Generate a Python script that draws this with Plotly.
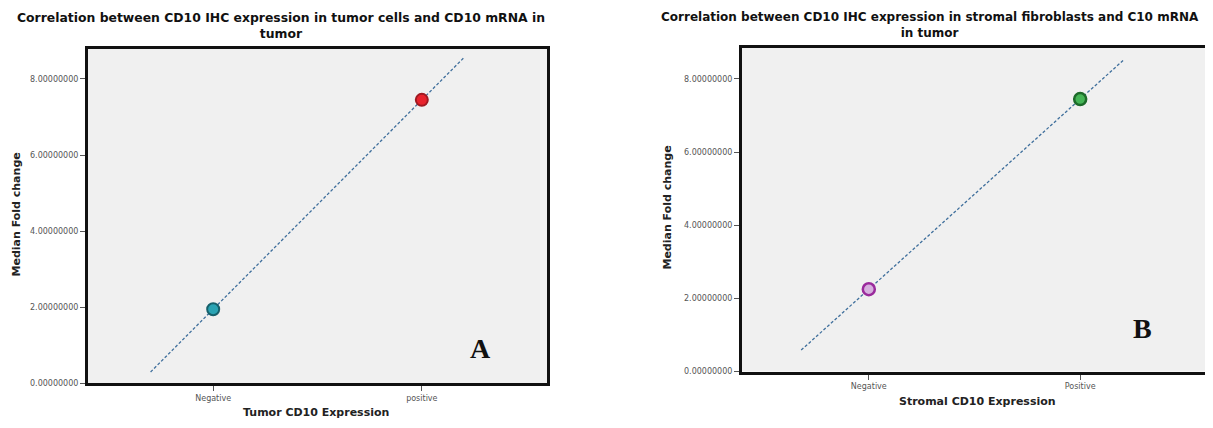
import plotly.graph_objects as go

# ---- data ----
cats_a = ["Negative", "positive"]
vals_a = [1.95, 7.45]
cats_b = ["Negative", "Positive"]
vals_b = [2.25, 7.45]
yticks = [0, 2, 4, 6, 8]
title_a = ["Correlation between CD10 IHC expression in tumor cells and CD10 mRNA in", "tumor"]
title_b = ["Correlation between CD10 IHC expression in stromal fibroblasts and C10 mRNA", "in tumor"]
xtitle_a = "Tumor CD10 Expression"
xtitle_b = "Stromal CD10 Expression"
ytitle = "Median Fold change"

# fit-line extent (in category index units)
ext_a = (-0.30, 1.20)
ext_b = (-0.32, 1.21)


def fit_line(vals, ext):
    slope = vals[1] - vals[0]
    xs = [ext[0], ext[1]]
    ys = [vals[0] + slope * x for x in xs]
    return xs, ys


OFF = 8  # page body margin
W, H = 1213 - OFF, 428 - 2 * OFF
FONT = "DejaVu Sans, sans-serif"
SERIF = "Liberation Serif, Times New Roman, serif"


def px(x):
    return (x - OFF) / W


def py(y):
    return 1 - (y - OFF) / H


fig = go.Figure()

LINE = dict(color="#3f6f9c", width=1.3, dash="3px,2px")

# panel A
lx, ly = fit_line(vals_a, ext_a)
fig.add_trace(go.Scatter(x=lx, y=ly, mode="lines", xaxis="x", yaxis="y",
                         line=LINE, showlegend=False, hoverinfo="skip"))
fig.add_trace(go.Scatter(x=[0], y=[vals_a[0]], mode="markers", xaxis="x", yaxis="y",
                         marker=dict(size=12, color="#2aa3b3", line=dict(color="#17606b", width=2)),
                         showlegend=False))
fig.add_trace(go.Scatter(x=[1], y=[vals_a[1]], mode="markers", xaxis="x", yaxis="y",
                         marker=dict(size=12, color="#e8232d", line=dict(color="#a01a22", width=2)),
                         showlegend=False))

# panel B
lx, ly = fit_line(vals_b, ext_b)
fig.add_trace(go.Scatter(x=lx, y=ly, mode="lines", xaxis="x2", yaxis="y2",
                         line=LINE, showlegend=False, hoverinfo="skip"))
fig.add_trace(go.Scatter(x=[0], y=[vals_b[0]], mode="markers", xaxis="x2", yaxis="y2",
                         marker=dict(size=12, color="#d6b0de", line=dict(color="#9a2a9c", width=2.5)),
                         showlegend=False))
fig.add_trace(go.Scatter(x=[1], y=[vals_b[1]], mode="markers", xaxis="x2", yaxis="y2",
                         marker=dict(size=12, color="#45b556", line=dict(color="#1d6b2a", width=2.5)),
                         showlegend=False))

ax_common = dict(showline=True, linecolor="#111111", linewidth=3, mirror=True,
                 showgrid=False, zeroline=False, ticks="outside", ticklen=5,
                 tickcolor="#555555", tickfont=dict(family=FONT, size=8, color="#555555"))

fig.update_layout(
    width=W, height=H,
    margin=dict(l=0, r=0, t=0, b=0),
    paper_bgcolor="white",
    plot_bgcolor="#f0f0f0",
    font=dict(family=FONT),
    xaxis=dict(domain=[px(88), px(547)], range=[-0.6, 1.6], tickmode="array",
               tickvals=[0, 1], ticktext=cats_a, anchor="y", **ax_common),
    yaxis=dict(domain=[py(388), py(49)], range=[0, 8.8], tickmode="array",
               tickvals=yticks, ticktext=[f"{v:.8f}" for v in yticks], anchor="x", **ax_common),
    xaxis2=dict(domain=[px(742), px(1207)], range=[-0.6, 1.6], tickmode="array",
                tickvals=[0, 1], ticktext=cats_b, anchor="y2", **ax_common),
    yaxis2=dict(domain=[py(376), py(48)], range=[0, 8.86], tickmode="array",
                tickvals=yticks, ticktext=[f"{v:.8f}" for v in yticks], anchor="x2", **ax_common),
)


def note(x, y, text, size, family=FONT, color="#111111", angle=0):
    return dict(x=px(x), y=py(y), xref="paper", yref="paper", text=text,
                showarrow=False, xanchor="center", yanchor="middle", textangle=angle,
                font=dict(family=family, size=size, color=color), align="center")


def btitle(lines):
    return "<br>".join("<b>" + s + "</b>" for s in lines)


ann = [
    note(281, 25.5, btitle(title_a), 12.4),
    note(930, 25.5, btitle(title_b), 12),
    note(316, 417, "<b>" + xtitle_a + "</b>", 11, color="#222222"),
    note(977, 406, "<b>" + xtitle_b + "</b>", 11, color="#222222"),
    note(16, 217, "<b>" + ytitle + "</b>", 11, color="#222222", angle=-90),
    note(668, 210, "<b>" + ytitle + "</b>", 11, color="#222222", angle=-90),
    note(480, 353, "<b>A</b>", 28, family=SERIF),
    note(1142, 332, "<b>B</b>", 28, family=SERIF),
]
fig.update_layout(annotations=ann)

fig.write_html("out.html")
